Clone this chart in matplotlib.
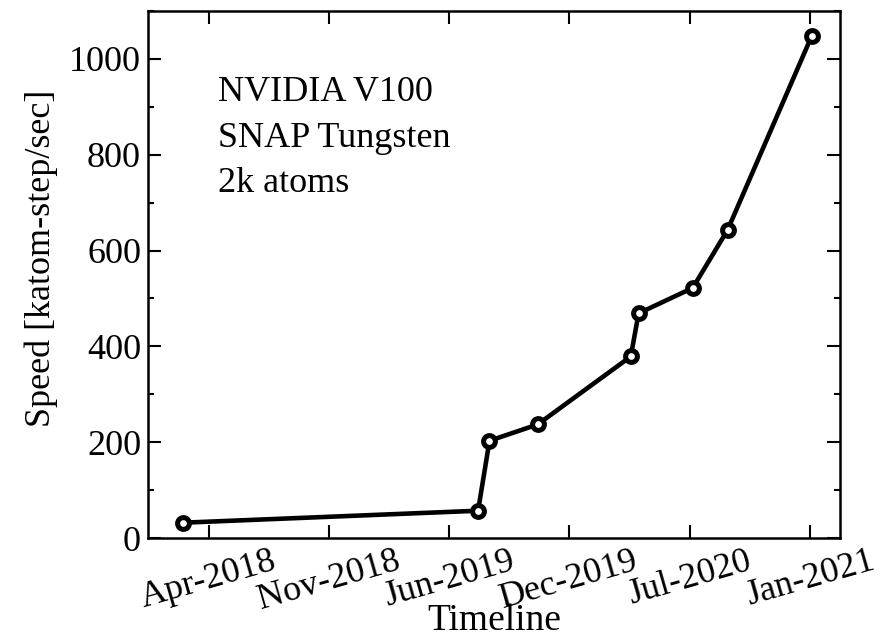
import matplotlib
matplotlib.use('Agg')
import matplotlib.pyplot as plt
from matplotlib.ticker import MultipleLocator
import pandas as pd

# データ
dates = ['2018-03-16', '2019-07-20', '2019-08-08', '2019-10-27', '2020-03-30',
         '2020-04-12', '2020-07-11', '2020-09-07', '2021-01-25']
speed = [32, 57, 203, 237, 379, 469, 522, 643, 1048]

tick_dates = ['2018-04-28', '2018-11-14', '2019-06-02', '2019-12-19',
              '2020-07-06', '2021-01-22']
tick_labels = ['Apr-2018', 'Nov-2018', 'Jun-2019', 'Dec-2019', 'Jul-2020', 'Jan-2021']

notes = ['NVIDIA V100', 'SNAP Tungsten', '2k atoms']

plt.rcParams['font.family'] = ['Liberation Serif', 'DejaVu Serif']

fig = plt.figure(figsize=(8.82, 6.39), dpi=100)
ax = fig.add_axes([0.1678, 0.158, 0.7846, 0.8248])

x = pd.to_datetime(dates)
ax.plot(x, speed, '-', color='black', linewidth=3.3,
        marker='o', markersize=8.5, markerfacecolor='white',
        markeredgecolor='black', markeredgewidth=3.6)

ax.set_xlim(pd.Timestamp('2018-01-17'), pd.Timestamp('2021-03-13'))
ax.set_ylim(0, 1100)
ax.set_xticks(pd.to_datetime(tick_dates))
ax.set_xticklabels(tick_labels, rotation=16, ha='center')
ax.yaxis.set_major_locator(MultipleLocator(200))
ax.yaxis.set_minor_locator(MultipleLocator(100))
ax.xaxis.set_minor_locator(plt.NullLocator())

ax.tick_params(which='both', direction='in', top=True, right=True,
               labelsize=26, width=1.5)
ax.tick_params(which='major', length=9.5, pad=5)
ax.tick_params(which='minor', length=4.5)
for s in ax.spines.values():
    s.set_linewidth(1.8)

ax.set_xlabel('Timeline', fontsize=27, labelpad=-10)
ax.set_ylabel('Speed [katom-step/sec]', fontsize=26)
ax.yaxis.set_label_coords(-0.13, 0.53)

# 注記
for i, t in enumerate(notes):
    ax.text(0.101, 0.846 - i * 0.087, t, transform=ax.transAxes,
            fontsize=26, va='center', ha='left')

fig.savefig('out.png', dpi=100)
